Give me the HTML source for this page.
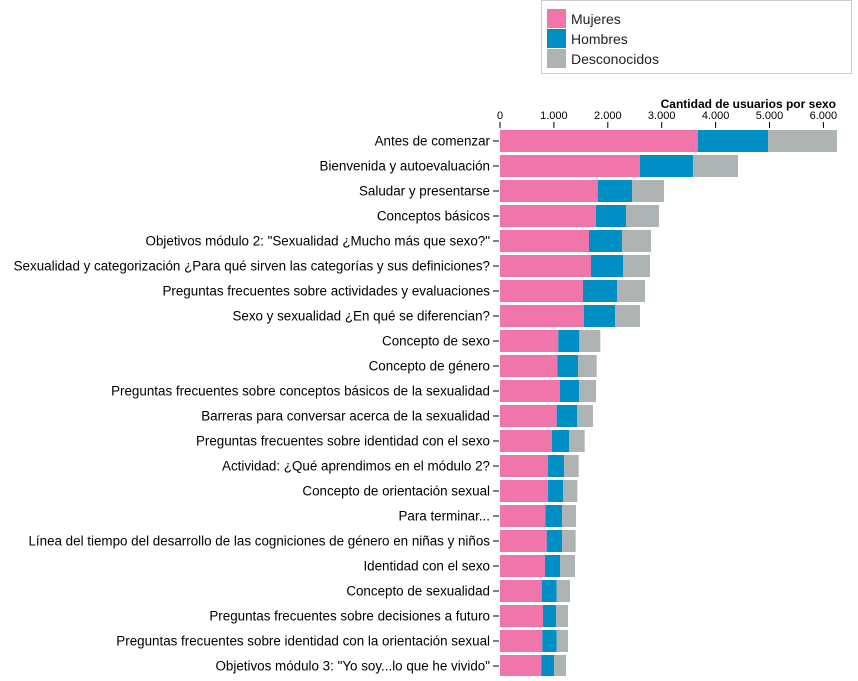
<!DOCTYPE html>
<html><head><meta charset="utf-8"><style>
body{margin:0;background:#fff;font-family:"Liberation Sans",Arial,sans-serif;}
svg text{font-family:"Liberation Sans",Arial,sans-serif;}
</style></head><body>
<svg id="chart" width="858" height="676">
<g id="legend">
<rect x="541.5" y="0.5" width="310" height="73" fill="#fff" stroke="#ccc"/>
</g>
<g id="axis"></g>
<g id="bars"></g>
<g id="ylabels"></g>
</svg>
<script>
const categories=["Antes de comenzar","Bienvenida y autoevaluación","Saludar y presentarse","Conceptos básicos","Objetivos módulo 2: \"Sexualidad ¿Mucho más que sexo?\"","Sexualidad y categorización ¿Para qué sirven las categorías y sus definiciones?","Preguntas frecuentes sobre actividades y evaluaciones","Sexo y sexualidad ¿En qué se diferencian?","Concepto de sexo","Concepto de género","Preguntas frecuentes sobre conceptos básicos de la sexualidad","Barreras para conversar acerca de la sexualidad","Preguntas frecuentes sobre identidad con el sexo","Actividad: ¿Qué aprendimos en el módulo 2?","Concepto de orientación sexual","Para terminar...","Línea del tiempo del desarrollo de las cogniciones de género en niñas y niños","Identidad con el sexo","Concepto de sexualidad","Preguntas frecuentes sobre decisiones a futuro","Preguntas frecuentes sobre identidad con la orientación sexual","Objetivos módulo 3: \"Yo soy...lo que he vivido\""];
const mujeres=[3673,2597,1818,1781,1651,1688,1540,1558,1082,1064,1113,1052,965,891,891,841,866,835,773,798,785,766];
const hombres=[1299,983,631,557,612,594,631,576,390,383,353,377,315,296,278,309,284,278,279,241,267,236];
const desconocidos=[1280,836,594,612,538,501,519,463,389,347,315,296,291,273,265,260,254,279,247,223,210,223];
const seriesNames=["Mujeres","Hombres","Desconocidos"];
const colors=["#f075aa","#008fc4","#aeb3b4"];
const ticks=[0,1000,2000,3000,4000,5000,6000];
const tickLabels=["0","1.000","2.000","3.000","4.000","5.000","6.000"];
const NS="http://www.w3.org/2000/svg";
const x0=500,k=0.0539;
function xs(v){return x0+v*k;}
function ys(i){return 130+i*25;}
function mk(t,a,p){const e=document.createElementNS(NS,t);for(const n in a)e.setAttribute(n,a[n]);p.appendChild(e);return e;}
const lg=document.getElementById('legend');
seriesNames.forEach((s,i)=>{
 const r=mk('rect',{x:547,y:9+i*20,width:19,height:19,fill:colors[i]},lg);
 
 
 const t=mk('text',{x:571,y:24+i*20,'font-size':14,fill:'#222'},lg);t.textContent=s;
 
 
});
const ax=document.getElementById('axis');
const tt=mk('text',{x:836,y:108,'font-size':12,'font-weight':'bold','text-anchor':'end',fill:'#000'},ax);
tt.textContent="Cantidad de usuarios por sexo";


ticks.forEach((v,i)=>{
 const t=mk('text',{x:xs(v),y:119,'font-size':11,'text-anchor':'middle',fill:'#000'},ax);t.textContent=tickLabels[i];
 
 
 mk('line',{x1:xs(v),x2:xs(v),y1:122,y2:128,stroke:'#000'},ax);
});
const bg=document.getElementById('bars'),yl=document.getElementById('ylabels');
categories.forEach((c,i)=>{
 const vals=[mujeres[i],hombres[i],desconocidos[i]];let acc=0;
 vals.forEach((v,j)=>{
  const r=mk('rect',{x:xs(acc),y:ys(i),width:v*k,height:22,fill:colors[j]},bg);
  
  
  acc+=v;
 });
 mk('line',{x1:493,x2:499,y1:ys(i)+11,y2:ys(i)+11,stroke:'#000'},yl);
 const t=mk('text',{x:490,y:ys(i)+15.5,'font-size':13.4,'text-anchor':'end',fill:'#000'},yl);
 t.textContent=c;
 
 
});
</script>
</body></html>
